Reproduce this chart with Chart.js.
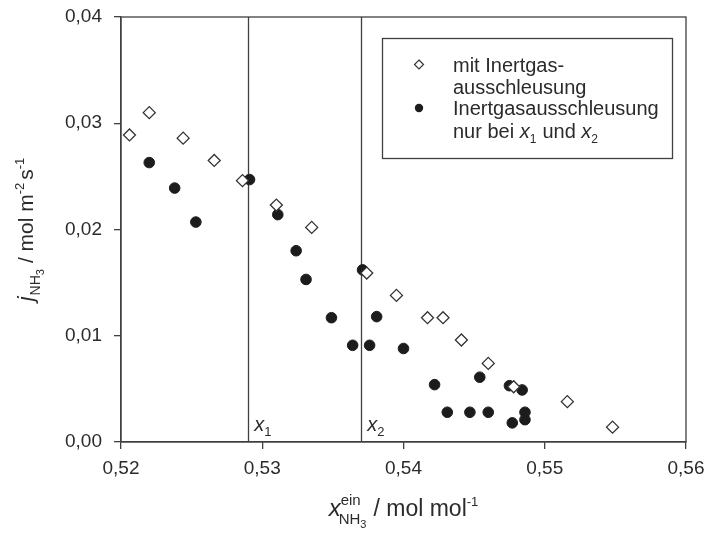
<!DOCTYPE html>
<html><head><meta charset="utf-8">
<script src="https://cdn.jsdelivr.net/npm/chart.js@4.4.0/dist/chart.umd.min.js"></script>
<style>html,body{margin:0;padding:0;background:#fff;}#wrap{width:706px;height:536px;}</style>
</head><body><div id="wrap"><canvas id="c" width="706" height="536"></canvas></div>
<script>
// ---- data ----
const openX = [0.5206, 0.5220, 0.5244, 0.5266, 0.5286, 0.5310, 0.5335, 0.5374, 0.5395, 0.5417, 0.5428, 0.5441, 0.5460, 0.5478, 0.5516, 0.5548];
const openY = [0.0289, 0.0310, 0.0286, 0.0265, 0.0246, 0.0223, 0.0202, 0.0159, 0.0138, 0.0117, 0.0117, 0.0096, 0.0074, 0.0052, 0.0038, 0.0014];
const filledX = [0.5220, 0.5238, 0.5253, 0.5291, 0.5311, 0.5324, 0.5331, 0.5349, 0.5364, 0.5371, 0.5376, 0.5381, 0.5400, 0.5422, 0.5431, 0.5447, 0.5454, 0.5460, 0.5475, 0.5477, 0.5484, 0.5486, 0.5486];
const filledY = [0.0263, 0.0239, 0.0207, 0.0247, 0.0214, 0.0180, 0.0153, 0.0117, 0.0091, 0.0162, 0.0091, 0.0118, 0.0088, 0.0054, 0.0028, 0.0028, 0.0061, 0.0028, 0.0053, 0.0018, 0.0049, 0.0028, 0.0021];
const xTickValues = [0.52, 0.53, 0.54, 0.55, 0.56];
const xTickLabels = ['0,52', '0,53', '0,54', '0,55', '0,56'];
const yTickValues = [0, 0.01, 0.02, 0.03, 0.04];
const yTickLabels = ['0,00', '0,01', '0,02', '0,03', '0,04'];
const markerX = [0.529, 0.537];
const markerSubs = ['1', '2'];
const seriesNames = ['mit Inertgasausschleusung', 'Inertgasausschleusung nur bei x1 und x2'];

const FONT = '"Liberation Sans", Arial, Helvetica, sans-serif';
const INK = '#2b2b2b';
const AX = '#404040';

function drawRich(ctx, segs, x, y, align) {
  let w = 0;
  segs.forEach(s => { ctx.font = (s.italic ? 'italic ' : '') + s.size + 'px ' + FONT; s.w = ctx.measureText(s.t).width; w += s.w + (s.gap || 0); });
  let cx = align === 'center' ? x - w / 2 : x;
  ctx.textAlign = 'left'; ctx.textBaseline = 'alphabetic';
  segs.forEach(s => {
    ctx.font = (s.italic ? 'italic ' : '') + s.size + 'px ' + FONT;
    ctx.fillText(s.t, cx, y + (s.dy || 0));
    cx += s.w + (s.gap || 0);
  });
}

const decor = {
  id: 'decor',
  beforeDatasetsDraw(chart) {
    const ctx = chart.ctx, a = chart.chartArea, xs = chart.scales.x;
    ctx.save();
    ctx.strokeStyle = AX; ctx.lineWidth = 1.3;
    ctx.strokeRect(a.left, a.top, a.right - a.left, a.bottom - a.top);
    markerX.forEach(v => {
      const px = Math.round(xs.getPixelForValue(v)) + 0.5;
      ctx.beginPath(); ctx.moveTo(px, a.top); ctx.lineTo(px, a.bottom); ctx.stroke();
    });
    ctx.restore();
  },
  afterDraw(chart) {
    const ctx = chart.ctx, a = chart.chartArea, xs = chart.scales.x;
    ctx.save();
    ctx.fillStyle = INK;
    markerX.forEach((v, i) => {
      const px = xs.getPixelForValue(v);
      drawRich(ctx, [{t: 'x', size: 20, italic: true}, {t: markerSubs[i], size: 13, dy: 5}], px + 6, 431, 'left');
    });
    ctx.strokeStyle = AX; ctx.lineWidth = 1.3;
    ctx.strokeRect(382.5, 38.5, 290, 120);
    const d = chart.data.datasets[0], f = chart.data.datasets[1];
    ctx.beginPath(); ctx.moveTo(419, 60); ctx.lineTo(423.5, 64.5); ctx.lineTo(419, 69); ctx.lineTo(414.5, 64.5); ctx.closePath();
    ctx.fillStyle = '#fff'; ctx.fill(); ctx.strokeStyle = d.borderColor; ctx.lineWidth = 1.2; ctx.stroke();
    ctx.beginPath(); ctx.arc(419, 108, 4.2, 0, Math.PI * 2); ctx.fillStyle = f.backgroundColor; ctx.fill();
    ctx.fillStyle = INK;
    const n0 = seriesNames[0], n1 = seriesNames[1];
    drawRich(ctx, [{t: n0.slice(0, 12) + '-', size: 20}], 453, 72, 'left');
    drawRich(ctx, [{t: n0.slice(12), size: 20}], 453, 94, 'left');
    drawRich(ctx, [{t: n1.slice(0, 21), size: 20}], 453, 115, 'left');
    drawRich(ctx, [{t: 'nur bei ', size: 20}, {t: 'x', size: 20, italic: true}, {t: '1', size: 12, dy: 5, gap: 6}, {t: 'und ', size: 20}, {t: 'x', size: 20, italic: true}, {t: '2', size: 12, dy: 5}], 453, 138, 'left');
    // x axis title
    drawRich(ctx, [
      {t: 'x', size: 24, italic: true},
      {t: 'ein', size: 15, dy: -11, gap: -22},
      {t: 'NH', size: 15, dy: 8},
      {t: '3', size: 11, dy: 12, gap: 7},
      {t: '/ mol mol', size: 23},
      {t: '-1', size: 13, dy: -10}
    ], (a.left + a.right) / 2, 516, 'center');
    // y axis title
    ctx.translate(33, (a.top + a.bottom) / 2);
    ctx.rotate(-Math.PI / 2);
    drawRich(ctx, [
      {t: 'j', size: 22, italic: true, gap: 1},
      {t: 'NH', size: 14, dy: 7},
      {t: '3', size: 11, dy: 11, gap: 6},
      {t: '/ mol m', size: 21},
      {t: '-2', size: 13, dy: -9, gap: 3},
      {t: 's', size: 21},
      {t: '-1', size: 13, dy: -9}
    ], 0, 0, 'center');
    ctx.restore();
  }
};

const tickFont = {family: FONT, size: 19};
new Chart(document.getElementById('c'), {
  type: 'scatter',
  data: {
    datasets: [
      {label: seriesNames[0], data: openX.map((x, i) => ({x, y: openY[i]})), pointStyle: 'rectRot', pointRadius: 6, pointHoverRadius: 6, borderColor: '#333', backgroundColor: '#fff', borderWidth: 1.3},
      {label: seriesNames[1], data: filledX.map((x, i) => ({x, y: filledY[i]})), pointStyle: 'circle', pointRadius: 5.3, pointHoverRadius: 5.3, borderColor: '#1c1c1c', backgroundColor: '#1c1c1c', borderWidth: 1}
    ]
  },
  options: {
    responsive: false, animation: false, devicePixelRatio: 1,
    layout: {padding: {left: 0, top: 17, right: 20, bottom: 0}},
    plugins: {legend: {display: false}, tooltip: {enabled: false}},
    scales: {
      x: {
        type: 'linear', min: 0.52, max: 0.56,
        afterBuildTicks: s => { s.ticks = xTickValues.map(v => ({value: v})); },
        afterFit: s => { s.height = 536 - 442; s.paddingLeft = 0; s.paddingRight = 0; },
        ticks: {callback: (v, i) => xTickLabels[i], font: tickFont, color: INK, padding: 8, maxRotation: 0, autoSkip: false},
        grid: {drawOnChartArea: false, drawTicks: true, tickLength: 7, color: AX, lineWidth: 1.3},
        border: {display: true, color: AX, width: 1.3}
      },
      y: {
        min: 0, max: 0.04,
        afterBuildTicks: s => { s.ticks = yTickValues.map(v => ({value: v})); },
        afterFit: s => { s.width = 121; s.paddingTop = 0; s.paddingBottom = 0; },
        ticks: {callback: (v, i) => yTickLabels[i], font: tickFont, color: INK, padding: 12, autoSkip: false},
        grid: {drawOnChartArea: false, drawTicks: true, tickLength: 7, color: AX, lineWidth: 1.3},
        border: {display: true, color: AX, width: 1.3}
      }
    }
  },
  plugins: [decor]
});
</script></body></html>
